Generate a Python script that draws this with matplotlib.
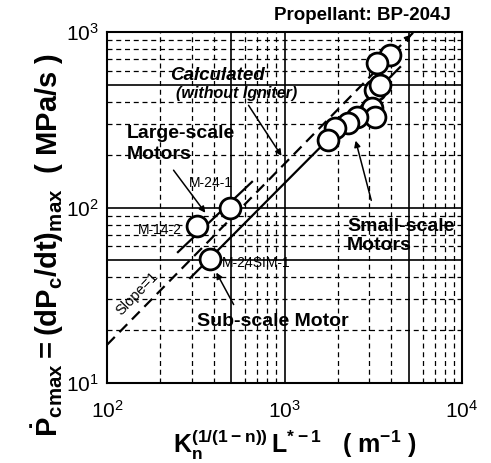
import numpy as np
import matplotlib
matplotlib.use("Agg")
import matplotlib.pyplot as plt
from matplotlib.ticker import LogLocator, FuncFormatter, NullFormatter

# data
large_x = [320, 490]
large_y = [78, 100]
large_names = ["M-14-2", "M-24-1"]

sub_x = [380]
sub_y = [51]
sub_names = ["M-24SIM-1"]

small_x = [3930, 3320, 3240, 3450, 3110, 3240, 2560, 2280, 1930, 1760]
small_y = [740, 666, 467, 499, 369, 328, 328, 303, 284, 243]

# fitted / calculated lines (end points)
large_fit_x = [251, 656]
large_fit_y = [55.7, 140]
small_fit_x = [294, 4480]
small_fit_y = [39.6, 631]
calc_x = [100, 5300]
calc_y = [16.5, 990]

plt.rcParams["font.family"] = ["Liberation Sans", "DejaVu Sans"]
plt.rcParams["mathtext.default"] = "regular"

fig = plt.figure(figsize=(4.91, 4.63), dpi=100)
ax = fig.add_axes([107 / 491, 1 - 383 / 463, 355 / 491, 351 / 463])
ax.set_xscale("log")
ax.set_yscale("log")
ax.set_xlim(100, 10000)
ax.set_ylim(10, 1000)

# grid: solid at 1 and 5, dashed elsewhere
for axis in (ax.xaxis, ax.yaxis):
    axis.set_major_locator(LogLocator(base=10, subs=(1.0, 5.0)))
    axis.set_minor_locator(LogLocator(base=10, subs=(2, 3, 4, 6, 7, 8, 9)))
    axis.set_minor_formatter(NullFormatter())


def decade_label(v, pos):
    e = np.log10(v)
    if abs(e - round(e)) < 1e-6:
        return r"$10^{%d}$" % round(e)
    return ""


ax.xaxis.set_major_formatter(FuncFormatter(decade_label))
ax.yaxis.set_major_formatter(FuncFormatter(decade_label))
ax.grid(which="major", color="black", linewidth=1.2, linestyle="-")
ax.grid(which="minor", color="black", linewidth=0.9, linestyle=(0, (4, 3)))
ax.tick_params(which="both", length=0)
ax.tick_params(axis="x", labelsize=15, pad=12)
ax.tick_params(axis="y", labelsize=15, pad=6)
for s in ax.spines.values():
    s.set_linewidth(1.5)

# lines
ax.plot(calc_x, calc_y, color="black", lw=1.6, linestyle=(0, (5, 3)), zorder=3)
ax.annotate("", xy=(calc_x[1], calc_y[1]), xytext=(calc_x[1] * 0.93, calc_y[1] * 0.93),
            arrowprops=dict(arrowstyle="-|>", color="black", lw=1.2, mutation_scale=9), zorder=3)
ax.plot(large_fit_x, large_fit_y, color="black", lw=1.6, zorder=3)
ax.plot(small_fit_x, small_fit_y, color="black", lw=1.6, zorder=3)

# data points
mk = dict(marker="o", linestyle="none", markersize=15, markerfacecolor="white",
          markeredgecolor="black", markeredgewidth=2, zorder=4)
ax.plot(small_x, small_y, **mk)
ax.plot(large_x, large_y, **mk)
ax.plot(sub_x, sub_y, **mk)

# point labels
ax.text(0.149, 0.436, large_names[0], transform=ax.transAxes, fontsize=10,
        ha="center", va="center", zorder=5)
ax.text(0.293, 0.570, large_names[1], transform=ax.transAxes, fontsize=10,
        ha="center", va="center", zorder=5)
ax.text(0.324, 0.342, sub_names[0], transform=ax.transAxes, fontsize=10,
        ha="left", va="center", zorder=5)

# annotations
ax.text(0.31, 0.877, "Calculated", transform=ax.transAxes, fontsize=13.5,
        fontweight="bold", style="italic", ha="center", va="center", zorder=5)
ax.text(0.366, 0.826, "(without Igniter)", transform=ax.transAxes, fontsize=11.5,
        fontweight="bold", style="italic", ha="center", va="center", zorder=5)
ax.text(0.056, 0.712, "Large-scale", transform=ax.transAxes, fontsize=14,
        fontweight="bold", ha="left", va="center", zorder=5)
ax.text(0.056, 0.650, "Motors", transform=ax.transAxes, fontsize=14,
        fontweight="bold", ha="left", va="center", zorder=5)
ax.text(0.468, 0.174, "Sub-scale Motor", transform=ax.transAxes, fontsize=14,
        fontweight="bold", ha="center", va="center", zorder=5)
ax.text(0.676, 0.445, "Small-scale", transform=ax.transAxes, fontsize=14,
        fontweight="bold", ha="left", va="center", zorder=5)
ax.text(0.676, 0.393, "Motors", transform=ax.transAxes, fontsize=14,
        fontweight="bold", ha="left", va="center", zorder=5)
ax.text(0.085, 0.256, "Slope=1", transform=ax.transAxes, fontsize=10.5,
        rotation=46, ha="center", va="center", zorder=5)

arrow = dict(arrowstyle="-|>", color="black", lw=1.1, mutation_scale=9)
ax.annotate("", xy=(981, 191), xytext=(615, 394), arrowprops=arrow, zorder=5)
ax.annotate("", xy=(366, 90.6), xytext=(232, 168), arrowprops=arrow, zorder=5)
ax.annotate("", xy=(406, 44), xytext=(526, 27.1), arrowprops=arrow, zorder=5)
ax.annotate("", xy=(2494, 249), xytext=(3110, 106), arrowprops=arrow, zorder=5)

fig.text(362 / 491, 1 - 15 / 463, "Propellant: BP-204J", fontsize=13.5,
         fontweight="bold", ha="center", va="center")

fig.text(48 / 491, 1 - 245 / 463,
         r"$\dot{P}_{cmax} = (dP_c/dt)_{max}$  ( MPa/s )",
         rotation=90, fontsize=21, fontweight="bold", ha="center", va="center")
fig.text(295 / 491, 1 - 445 / 463,
         r"$K_n^{(1/(1-n))}\,L^{*-1}$   ( m$^{-1}$ )",
         fontsize=18, fontweight="bold", ha="center", va="center")

fig.savefig("out.png", dpi=100)
